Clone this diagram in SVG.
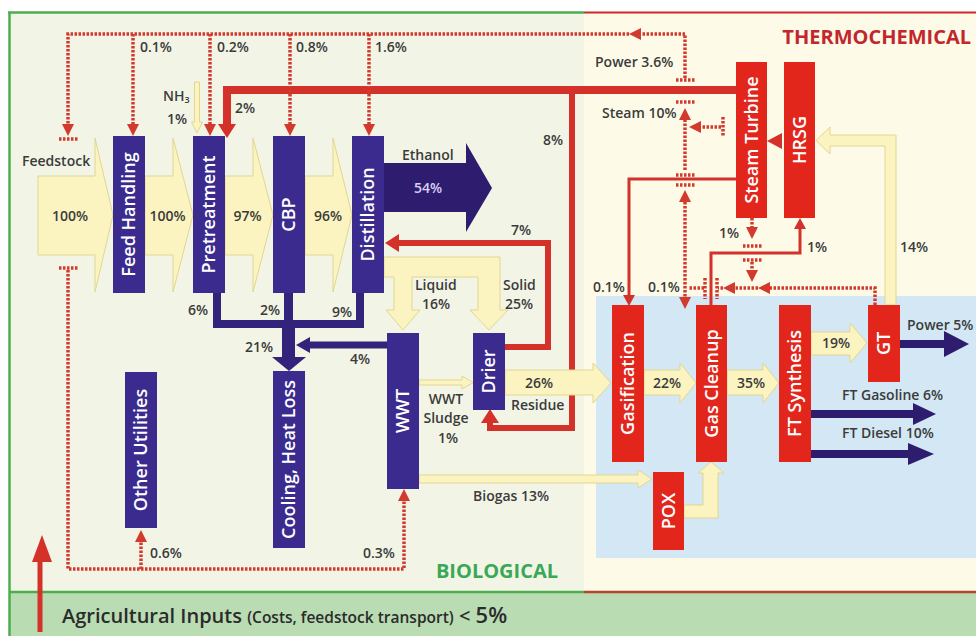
<svg xmlns="http://www.w3.org/2000/svg" width="976" height="636" viewBox="0 0 976 636">
<defs>
<style>
.t{font-family:"Open Sans","Liberation Sans",sans-serif;font-weight:600;font-size:14px;fill:#3b3b3b}
.nl{font-family:"Open Sans","Liberation Sans",sans-serif;font-weight:600;font-size:18px;fill:#ffffff;text-anchor:middle}
.bn{fill:#3c2b8e}
.rn{fill:#e2261c}
.yf{fill:#fcf4c0;stroke:#e2d690;stroke-width:1}
.pf{fill:#2e1d6e}
.dot{fill:none;stroke:#d23a2e;stroke-width:3.5;stroke-dasharray:2.5 1.5}
.rl{fill:none;stroke:#d3312a;stroke-linejoin:miter}
</style>
<marker id="dh" markerUnits="userSpaceOnUse" viewBox="0 0 12 12" refX="0" refY="6" markerWidth="12" markerHeight="12" orient="auto-start-reverse"><path d="M0,0L12,6L0,12z" fill="#d23a2e"/></marker>
<marker id="rh" markerUnits="userSpaceOnUse" viewBox="0 0 14 18" refX="0" refY="9" markerWidth="14" markerHeight="18" orient="auto"><path d="M0,0L14,9L0,18z" fill="#d3312a"/></marker>
<marker id="th" markerUnits="userSpaceOnUse" viewBox="0 0 11 12" refX="0" refY="6" markerWidth="11" markerHeight="12" orient="auto"><path d="M0,0L11,6L0,12z" fill="#d3312a"/></marker>
</defs>

<g id="background">
<rect x="0" y="0" width="976" height="636" fill="#ffffff"/>
<rect x="9" y="12" width="575" height="580" fill="#f2f5e6"/>
<rect x="584" y="12" width="392" height="580" fill="#fdfbe8"/>
<rect x="596" y="296" width="380" height="262" fill="#d3e8f4"/>
<rect x="9" y="592" width="967" height="44" fill="#b9dcb2"/>
<line x1="8" y1="12.5" x2="584" y2="12.5" stroke="#4cae4f" stroke-width="2.5"/>
<line x1="584" y1="12.5" x2="976" y2="12.5" stroke="#cc2a2a" stroke-width="2"/>
<line x1="9.5" y1="12" x2="9.5" y2="636" stroke="#4cae4f" stroke-width="2.5"/>
<line x1="9" y1="592" x2="584" y2="592" stroke="#4cae4f" stroke-width="2.5"/>
<line x1="584" y1="592" x2="976" y2="592" stroke="#b8432f" stroke-width="2.5"/>
<text x="971" y="44" text-anchor="end" style="font-family:'Open Sans','Liberation Sans',sans-serif;font-weight:700;font-size:20px;fill:#c1272d">THERMOCHEMICAL</text>
<text x="497" y="578" text-anchor="middle" style="font-family:'Open Sans','Liberation Sans',sans-serif;font-weight:700;font-size:20px;fill:#3aa857">BIOLOGICAL</text>
<path d="M40,632V562" stroke="#d3312a" stroke-width="5" fill="none"/>
<polygon points="32,562 52,562 42,535" fill="#d3312a"/>
<text x="62" y="623" style="font-family:'Open Sans','Liberation Sans',sans-serif;font-weight:600;font-size:20px;fill:#2b2b2b">Agricultural Inputs <tspan font-size="15.5">(Costs, feedstock transport)</tspan> &lt; <tspan font-size="22">5%</tspan></text>
</g>

<g id="connectors">
<!-- red solid lines -->
<path class="rl" stroke-width="8" d="M736,90H227V124" marker-end="url(#rh)"/>
<path class="rl" stroke-width="6" d="M572,90V428H490V423" marker-end="url(#rh)"/>
<path class="rl" stroke-width="6" d="M505,347H548V243H399" marker-end="url(#rh)"/>
<path class="rl" stroke-width="3" d="M736,179H629V295" marker-end="url(#th)"/>
<path class="rl" stroke-width="3" d="M711,305V253H800V229" marker-end="url(#th)"/>
<polygon points="782,133 767,141 782,149" fill="#d3312a"/>

<!-- yellow flows -->
<polygon class="yf" points="38,176 95,176 95,138 113,215 95,292 95,255 38,255"/>
<polygon class="yf" points="145,176 173,176 173,138 193,215 173,292 173,255 145,255"/>
<polygon class="yf" points="225,176 253,176 253,138 273,215 253,292 253,255 225,255"/>
<polygon class="yf" points="305,176 333,176 333,138 352,215 333,292 333,255 305,255"/>
<polygon class="yf" points="194.5,82 199.5,82 199.5,122 202.5,122 197,133 191.5,122 194.5,122"/>
<polygon class="yf" points="384,257 500,257 500,310 508,310 489,330 470,310 478,310 478,277 412,277 412,310 420,310 403,330 386,310 394,310 394,277 384,277"/>
<polygon class="yf" points="419,380 462,380 462,376 473,382.5 462,389 462,385 419,385"/>
<polygon class="yf" points="505,370 593,370 593,363 611,383 593,403 593,395 505,395"/>
<polygon class="yf" points="644,370 680,370 680,363 696,383 680,403 680,395 644,395"/>
<polygon class="yf" points="727,370 763,370 763,363 779,383 763,403 763,395 727,395"/>
<polygon class="yf" points="811,332 850,332 850,323 867,343 850,363 850,355 811,355"/>
<polygon class="yf" points="419,475 638,475 638,470 652,479 638,488 638,483 419,483"/>
<polygon class="yf" points="684,505 703,505 703,473 698,473 711,462 724,473 718,473 718,518 684,518"/>
<polygon class="yf" points="885,305 885,146 830,146 830,154 816,140.5 830,127 830,135 896,135 896,305"/>

<!-- purple flows -->
<polygon class="pf" points="384,163 466,163 466,143 492,188 466,232 466,212 384,212"/>
<path d="M217,293V324H360V293" fill="none" stroke="#33237a" stroke-width="8"/>
<path d="M288.5,293V324" fill="none" stroke="#33237a" stroke-width="9"/>
<rect x="282" y="320" width="13" height="38" fill="#33237a"/>
<polygon points="272,357 306,357 289,371" fill="#33237a"/>
<path d="M387,345H308" fill="none" stroke="#33237a" stroke-width="7"/>
<polygon points="310,337 296,345 310,353" fill="#33237a"/>
<rect x="900" y="340" width="45" height="8" class="pf"/>
<polygon class="pf" points="944,331 969,344 944,357"/>
<rect x="811" y="410" width="104" height="8" class="pf"/>
<polygon class="pf" points="913,403 936,414 913,425"/>
<rect x="811" y="450" width="99" height="8" class="pf"/>
<polygon class="pf" points="908,443 934,454 908,465"/>

<!-- dotted power/steam lines -->
<path class="dot" d="M685,78V34H641" marker-end="url(#dh)"/>
<path class="dot" d="M629,34H68V124" marker-end="url(#dh)"/>
<path class="dot" d="M133,34V124" marker-end="url(#dh)"/>
<path class="dot" d="M210,34V124" marker-end="url(#dh)"/>
<path class="dot" d="M290,34V124" marker-end="url(#dh)"/>
<path class="dot" d="M369,34V124" marker-end="url(#dh)"/>
<path class="dot" d="M59,139H78"/>
<path class="dot" d="M59,268H78"/>
<path class="dot" d="M68,270V569H404V501" marker-end="url(#dh)"/>
<path class="dot" d="M141,569V542" marker-end="url(#dh)"/>
<path class="dot" d="M676,80H695"/>
<path class="dot" d="M676,102H695"/>
<path class="dot" d="M685,170V120" marker-end="url(#dh)"/>
<path class="dot" d="M676,175H695"/>
<path class="dot" d="M676,185H695"/>
<path class="dot" d="M685,202V297" marker-start="url(#dh)" marker-end="url(#dh)"/>
<path class="dot" d="M723,117V137"/>
<path class="dot" d="M721,127H701" marker-end="url(#dh)"/>
<path class="dot" d="M752,218V227" marker-end="url(#dh)"/>
<path class="dot" d="M743,246H762"/>
<path class="dot" d="M743,260H762"/>
<path class="dot" d="M752,262V270" marker-end="url(#dh)"/>
<path class="dot" d="M875,305V288H770" marker-end="url(#dh)"/>
<path class="dot" d="M758,288H735" marker-end="url(#dh)"/>
<path class="dot" d="M723,288H718"/>
<path class="dot" d="M717,278V299"/>
<path class="dot" d="M705,278V299"/>
<path class="dot" d="M704,288H688"/>
</g>

<g id="feed-handling"><rect class="bn" x="113" y="136" width="32" height="157"/><text class="nl" transform="translate(129,214.5) rotate(-90)" dy="6">Feed Handling</text></g>
<g id="pretreatment"><rect class="bn" x="193" y="136" width="32" height="157"/><text class="nl" transform="translate(209,214.5) rotate(-90)" dy="6">Pretreatment</text></g>
<g id="cbp"><rect class="bn" x="273" y="136" width="32" height="157"/><text class="nl" transform="translate(289,214.5) rotate(-90)" dy="6">CBP</text></g>
<g id="distillation"><rect class="bn" x="352" y="136" width="32" height="157"/><text class="nl" transform="translate(368,214.5) rotate(-90)" dy="6">Distillation</text></g>
<g id="other-utilities"><rect class="bn" x="125" y="372" width="32" height="156"/><text class="nl" transform="translate(141,450) rotate(-90)" dy="6">Other Utilities</text></g>
<g id="cooling"><rect class="bn" x="273" y="371" width="32" height="177"/><text class="nl" transform="translate(289,459.5) rotate(-90)" dy="6">Cooling, Heat Loss</text></g>
<g id="wwt"><rect class="bn" x="387" y="333" width="32" height="156"/><text class="nl" transform="translate(403,411) rotate(-90)" dy="6">WWT</text></g>
<g id="drier"><rect class="bn" x="473" y="333" width="32" height="77"/><text class="nl" transform="translate(489,371.5) rotate(-90)" dy="6">Drier</text></g>
<g id="steam-turbine"><rect class="rn" x="736" y="62" width="31" height="156"/><text class="nl" transform="translate(751.5,140) rotate(-90)" dy="6">Steam Turbine</text></g>
<g id="hrsg"><rect class="rn" x="784" y="62" width="31" height="156"/><text class="nl" transform="translate(799.5,140) rotate(-90)" dy="6">HRSG</text></g>
<g id="gasification"><rect class="rn" x="612" y="305" width="32" height="157"/><text class="nl" transform="translate(628,383.5) rotate(-90)" dy="6">Gasification</text></g>
<g id="gas-cleanup"><rect class="rn" x="696" y="305" width="31" height="157"/><text class="nl" transform="translate(711.5,383.5) rotate(-90)" dy="6">Gas Cleanup</text></g>
<g id="ft-synthesis"><rect class="rn" x="779" y="305" width="32" height="157"/><text class="nl" transform="translate(795,383.5) rotate(-90)" dy="6">FT Synthesis</text></g>
<g id="gt"><rect class="rn" x="868" y="305" width="32" height="77"/><text class="nl" transform="translate(884,343.5) rotate(-90)" dy="6">GT</text></g>
<g id="pox"><rect class="rn" x="653" y="472" width="31" height="78"/><text class="nl" transform="translate(668.5,511) rotate(-90)" dy="6">POX</text></g>

<g id="labels">
<text class="t" x="140" y="52">0.1%</text>
<text class="t" x="217" y="52">0.2%</text>
<text class="t" x="296" y="52">0.8%</text>
<text class="t" x="375" y="52">1.6%</text>
<text class="t" x="163" y="101">NH<tspan font-size="9" dy="2">3</tspan></text>
<text class="t" x="167" y="124">1%</text>
<text class="t" x="235" y="113">2%</text>
<text class="t" x="22" y="166">Feedstock</text>
<text class="t" x="70" y="221" text-anchor="middle">100%</text>
<text class="t" x="167.5" y="221" text-anchor="middle">100%</text>
<text class="t" x="247.5" y="221" text-anchor="middle">97%</text>
<text class="t" x="328" y="221" text-anchor="middle">96%</text>
<text class="t" x="402" y="160">Ethanol</text>
<text class="t" x="428" y="193" text-anchor="middle" style="fill:#d6cff4">54%</text>
<text class="t" x="543" y="145">8%</text>
<text class="t" x="595" y="67">Power 3.6%</text>
<text class="t" x="602" y="118">Steam 10%</text>
<text class="t" x="511" y="235">7%</text>
<text class="t" x="415" y="290">Liquid</text>
<text class="t" x="422" y="309">16%</text>
<text class="t" x="503" y="290">Solid</text>
<text class="t" x="505" y="309">25%</text>
<text class="t" x="188" y="315">6%</text>
<text class="t" x="260" y="315">2%</text>
<text class="t" x="332" y="317">9%</text>
<text class="t" x="245" y="352">21%</text>
<text class="t" x="350" y="364">4%</text>
<text class="t" x="525" y="388">26%</text>
<text class="t" x="511" y="410">Residue</text>
<text class="t" x="446" y="404" text-anchor="middle">WWT</text>
<text class="t" x="446" y="423" text-anchor="middle">Sludge</text>
<text class="t" x="448" y="443" text-anchor="middle">1%</text>
<text class="t" x="473" y="501">Biogas 13%</text>
<text class="t" x="150" y="558">0.6%</text>
<text class="t" x="363" y="558">0.3%</text>
<text class="t" x="593" y="292">0.1%</text>
<text class="t" x="648" y="292">0.1%</text>
<text class="t" x="719" y="238">1%</text>
<text class="t" x="807" y="252">1%</text>
<text class="t" x="900" y="252">14%</text>
<text class="t" x="907" y="330">Power 5%</text>
<text class="t" x="822" y="348">19%</text>
<text class="t" x="653" y="388">22%</text>
<text class="t" x="737" y="388">35%</text>
<text class="t" x="842" y="400">FT Gasoline 6%</text>
<text class="t" x="842" y="438">FT Diesel 10%</text>
</g>
</svg>
